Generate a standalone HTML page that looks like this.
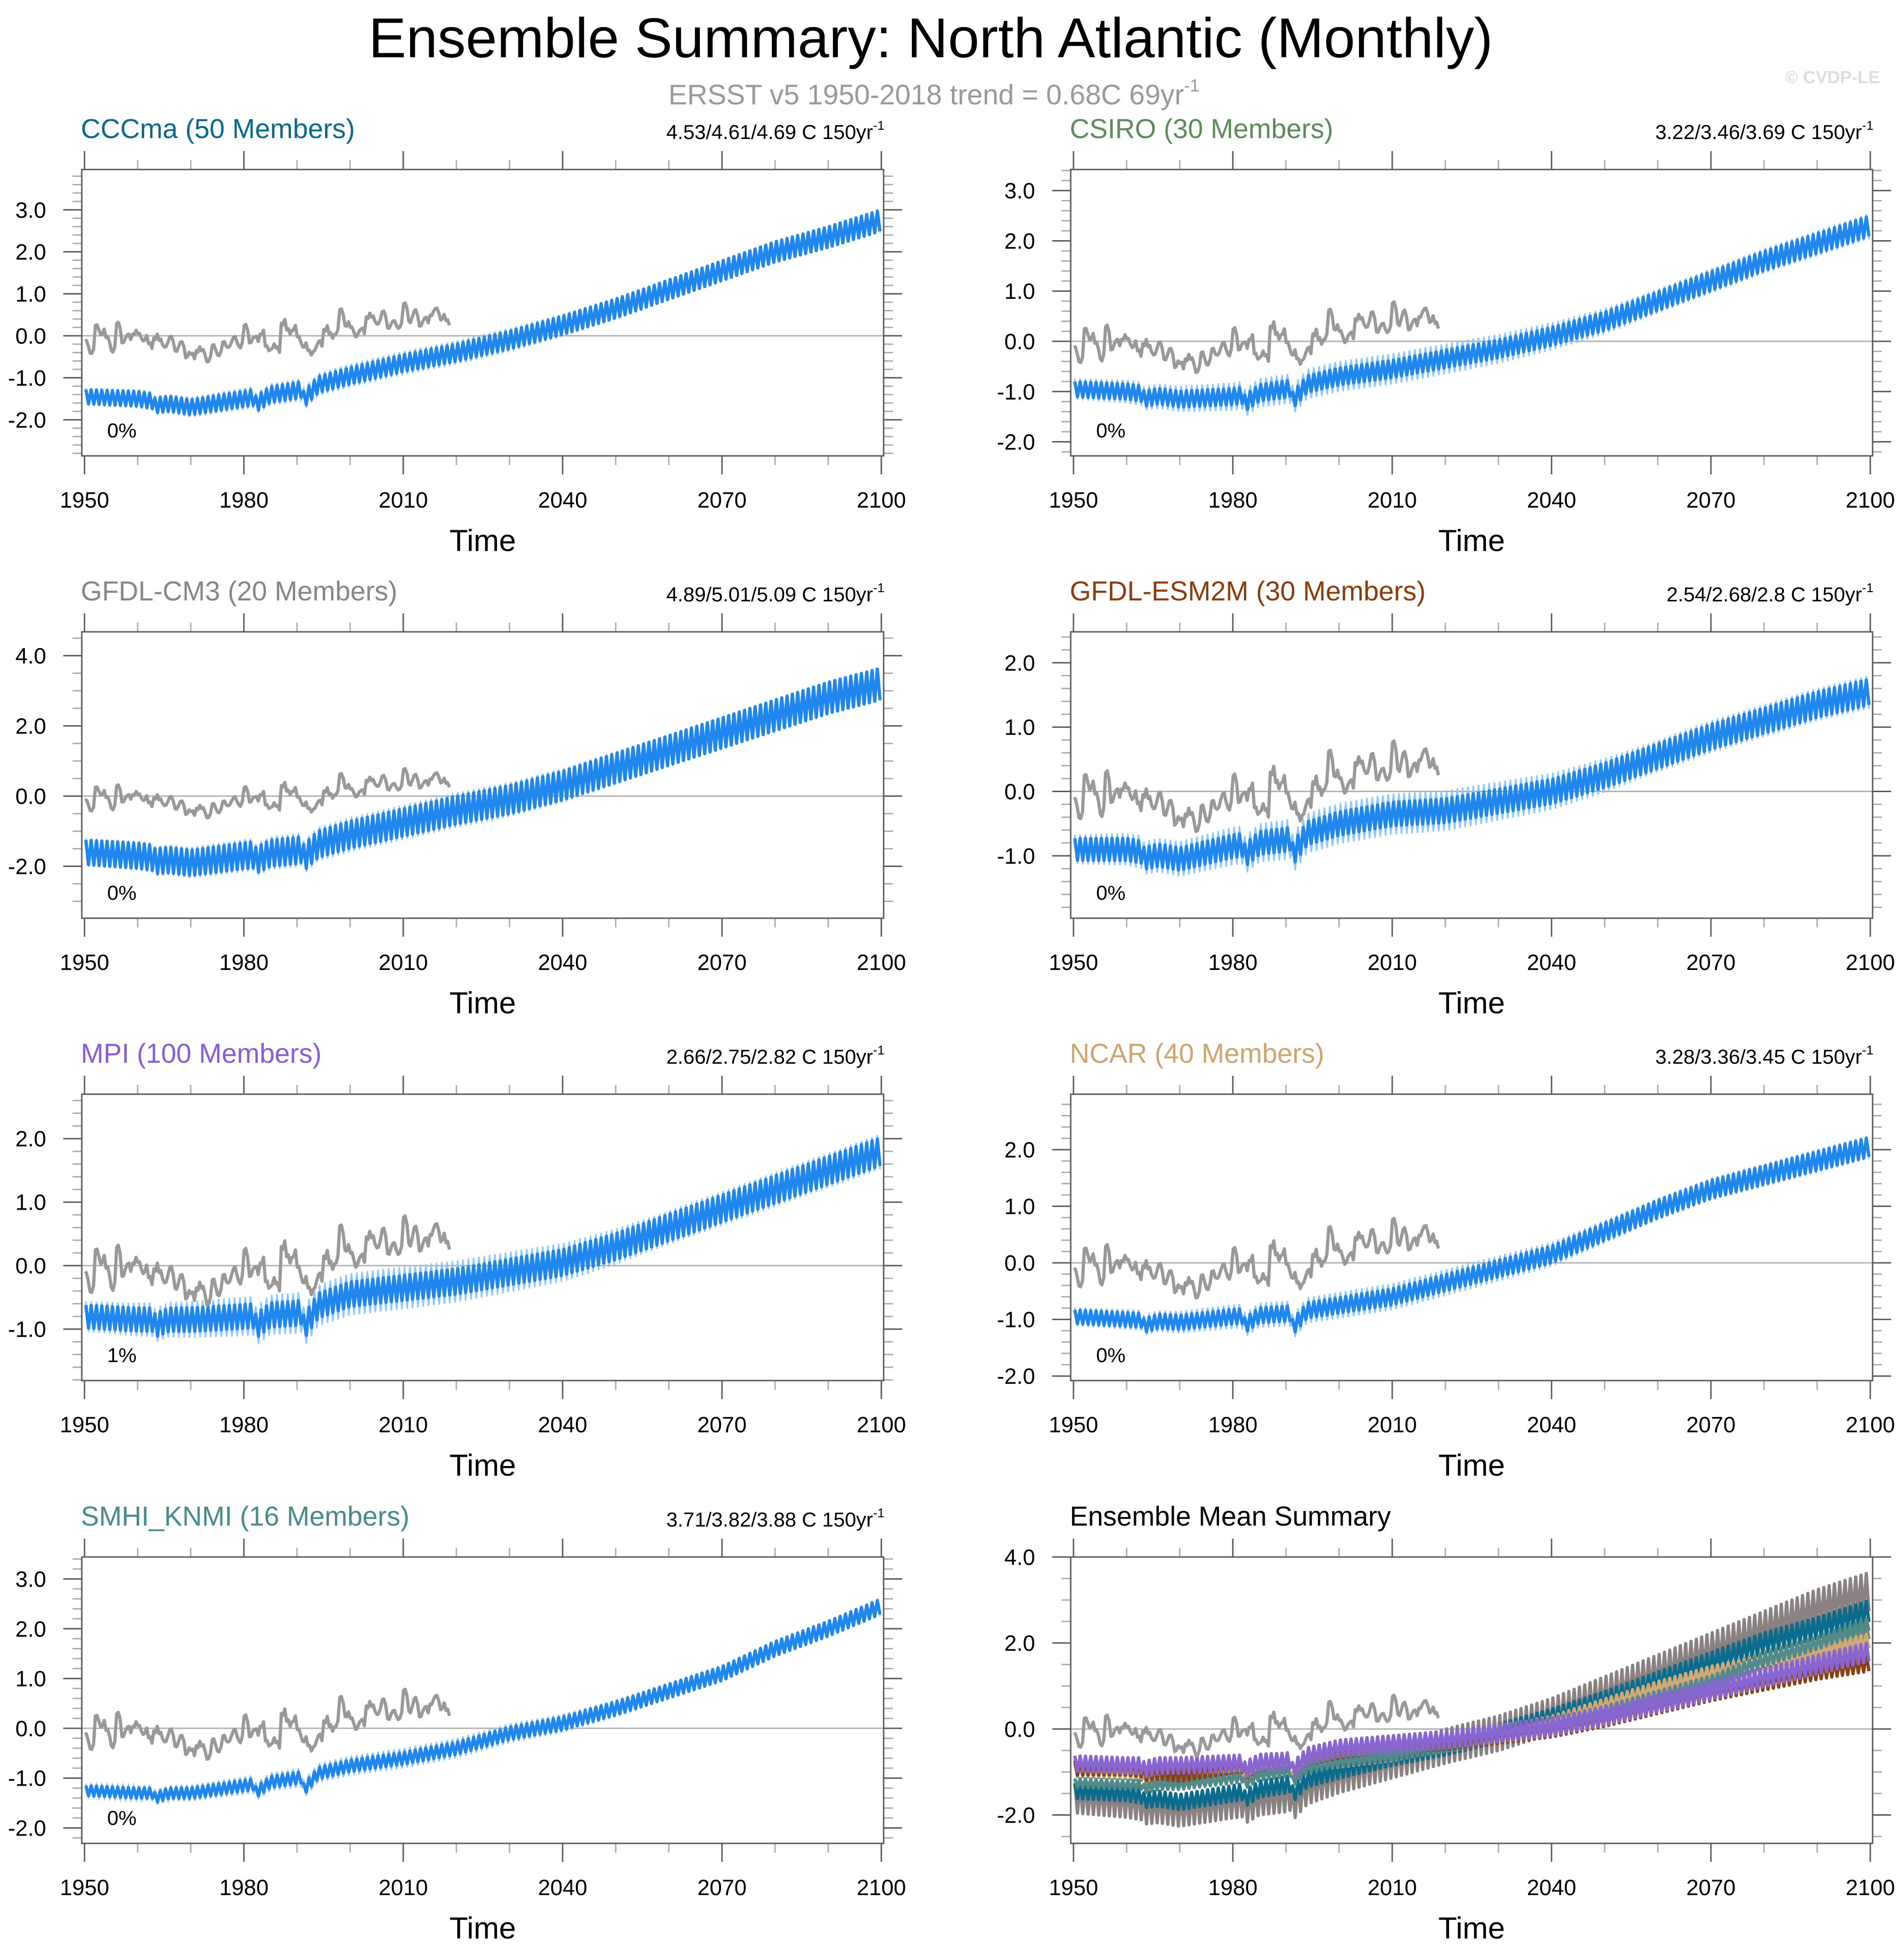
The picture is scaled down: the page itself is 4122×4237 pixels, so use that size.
<!DOCTYPE html>
<html><head><meta charset="utf-8"><style>
html,body{margin:0;padding:0;background:#fff;}
svg{display:block;font-family:"Liberation Sans",sans-serif;}
</style></head><body>
<svg id="chart" width="4122" height="4237" viewBox="0 0 4122 4237" xmlns="http://www.w3.org/2000/svg">
<rect width="4122" height="4237" fill="#fff"/>
<text x="2015" y="124" font-size="122" text-anchor="middle" fill="#000">Ensemble Summary: North Atlantic (Monthly)</text>
<text x="2022" y="226" font-size="61" text-anchor="middle" fill="#999">ERSST v5 1950-2018 trend = 0.68C 69yr<tspan font-size="38" dy="-28">-1</tspan></text>
<text x="4070" y="180" font-size="38" font-weight="bold" text-anchor="end" fill="#ddd">© CVDP-LE</text>
<g id="panels"></g>
</svg>
<script>
// ---- data ----
const modelNames = ["CCCma (50 Members)","CSIRO (30 Members)","GFDL-CM3 (20 Members)","GFDL-ESM2M (30 Members)","MPI (100 Members)","NCAR (40 Members)","SMHI_KNMI (16 Members)"];
const trendLabels = ["4.53/4.61/4.69 C 150yr","3.22/3.46/3.69 C 150yr","4.89/5.01/5.09 C 150yr","2.54/2.68/2.8 C 150yr","2.66/2.75/2.82 C 150yr","3.28/3.36/3.45 C 150yr","3.71/3.82/3.88 C 150yr"];
const pctLabels = ["0%","0%","0%","0%","1%","0%","0%"];
const meanYears = [1950,1960,1970,1980,1990,2000,2010,2020,2030,2040,2050,2060,2070,2080,2090,2100];
const cccmaMean  = [-1.45,-1.5,-1.7,-1.5,-1.3,-0.95,-0.65,-0.4,-0.1,0.25,0.65,1.1,1.55,2.0,2.35,2.75];
const csiroMean  = [-0.95,-1.0,-1.15,-1.1,-0.95,-0.7,-0.55,-0.35,-0.15,0.1,0.4,0.8,1.2,1.6,1.95,2.3];
const cm3Mean    = [-1.6,-1.7,-1.9,-1.7,-1.55,-1.1,-0.75,-0.4,-0.1,0.3,0.8,1.3,1.8,2.3,2.8,3.2];
const esm2mMean  = [-0.9,-0.9,-1.05,-0.85,-0.75,-0.5,-0.35,-0.3,-0.15,0.0,0.25,0.55,0.85,1.1,1.35,1.55];
const mpiMean    = [-0.8,-0.85,-0.85,-0.8,-0.75,-0.45,-0.35,-0.25,-0.1,0.05,0.3,0.6,0.9,1.2,1.5,1.8];
const ncarMean   = [-0.95,-1.0,-1.05,-0.95,-0.9,-0.75,-0.6,-0.35,-0.1,0.15,0.55,0.95,1.3,1.55,1.8,2.05];
const smhiMean   = [-1.25,-1.3,-1.3,-1.15,-1.0,-0.75,-0.6,-0.4,-0.1,0.1,0.4,0.75,1.1,1.6,2.0,2.45];
const seasonalAmp = [0.17,0.15,0.35,0.17,0.18,0.12,0.1];
const seasonalAmpEnd = [0.25,0.2,0.45,0.2,0.22,0.17,0.15];
const spreadAmp = [0.06,0.1,0.08,0.1,0.1,0.07,0.06];
const volcYears = [1963,1982,1991];
const volcDepth = [-0.1,-0.18,-0.28];
const obsYears = [1950,1951,1952,1953,1954,1955,1956,1957,1958,1959,1960,1961,1962,1963,1964,1965,1966,1967,1968,1969,1970,1971,1972,1973,1974,1975,1976,1977,1978,1979,1980,1981,1982,1983,1984,1985,1986,1987,1988,1989,1990,1991,1992,1993,1994,1995,1996,1997,1998,1999,2000,2001,2002,2003,2004,2005,2006,2007,2008,2009,2010,2011,2012,2013,2014,2015,2016,2017,2018];
const obsValues = [-0.2,-0.35,0.2,0.1,-0.1,-0.3,0.25,-0.1,-0.05,0.1,0.0,-0.05,-0.25,0.0,-0.15,-0.2,-0.1,-0.3,-0.2,-0.45,-0.5,-0.3,-0.4,-0.55,-0.3,-0.4,-0.2,-0.2,-0.1,-0.2,0.2,-0.1,-0.1,0.1,-0.3,-0.25,-0.35,0.35,0.1,0.2,-0.1,-0.2,-0.4,-0.3,-0.2,0.2,0.0,0.1,0.55,0.3,0.15,0.05,0.1,0.5,0.4,0.35,0.5,0.25,0.3,0.25,0.7,0.4,0.55,0.3,0.35,0.55,0.6,0.45,0.3];
const obsWiggle = [0.15,-0.12,0.1,-0.15,0.12,-0.1,0.08,-0.14];
const xTickLabels = ["1950","1980","2010","2040","2070","2100"];
const titleColors = ["#0b6a8b","#5e8a5e","#8a8585","#8b3c0c","#8a5cd6","#cfa470","#4a8a8a"];
const lineColors = ["#0a6c8c","#6f8f6f","#8a8282","#8b400f","#8865d0","#cfa978","#528a8a"];
const allMeans = [cccmaMean,csiroMean,cm3Mean,esm2mMean,mpiMean,ncarMean,smhiMean];
const yTop = [3.96,3.42,4.68,2.48,2.70,2.98,3.44,4.0];
const yBot = [-2.86,-2.28,-3.48,-1.97,-1.81,-2.08,-2.31,-2.66];
const yMajorStep = [1,1,2,1,1,1,1,2];
const yMinorStep = [0.2,0.2,0.5,0.2,0.2,0.2,0.2,0.5];

// ---- layout ----
const NS="http://www.w3.org/2000/svg";
const root=document.getElementById('panels');
const BW=1736, BH=620;
const lefts=[177,2318], tops=[367,1368,2369,3371];
function el(tag,attrs,parent){const e=document.createElementNS(NS,tag);for(const k in attrs)e.setAttribute(k,attrs[k]);(parent||root).appendChild(e);return e;}
function interp(xs,ys,x){for(let i=0;i<xs.length-1;i++){if(x<=xs[i+1]){const t=(x-xs[i])/(xs[i+1]-xs[i]);return ys[i]+t*(ys[i+1]-ys[i]);}}return ys[ys.length-1];}
function volc(y){let v=0;for(let i=0;i<volcYears.length;i++){const d=y-volcYears[i];if(d>=0&&d<3)v+=volcDepth[i]*(1-d/3);}return v;}

function drawPanel(p){
  const L=lefts[p%2], T=tops[Math.floor(p/2)];
  const g=el('g',{});
  
  
  const x0=L+6, x1=L+BW-5;
  const X=yr=>x0+(yr-1950)/150*(x1-x0);
  const Y=v=>T+(yTop[p]-v)/(yTop[p]-yBot[p])*BH;
  const cid='clip'+p;
  const cp=el('clipPath',{id:cid},g);el('rect',{x:L,y:T,width:BW,height:BH},cp);
  for(let yr=1950;yr<=2100;yr+=10){
    const major=(yr-1950)%30===0, len=major?40:20, col=major?'#555':'#aaa';
    const t1=el('line',{x1:X(yr),x2:X(yr),y1:T,y2:T-len,stroke:col,'stroke-width':3},g);
    
    
    const t2=el('line',{x1:X(yr),x2:X(yr),y1:T+BH,y2:T+BH+len,stroke:col,'stroke-width':3},g);
    
    
  }
  xTickLabels.forEach((lab,i)=>{
    const t=el('text',{x:X(1950+30*i),y:T+BH+112,'font-size':48,'text-anchor':'middle',fill:'#000'},g);t.textContent=lab;
    
    
  });
  const xt=el('text',{x:L+BW/2,y:T+BH+206,'font-size':66,'text-anchor':'middle',fill:'#000'},g);xt.textContent='Time';
  
  
  const mn=yMinorStep[p], mj=yMajorStep[p];
  for(let k=Math.ceil(yBot[p]/mn-1e-6);k*mn<=yTop[p]+1e-6;k++){
    const v=+(k*mn).toFixed(3);
    const major=Math.abs(v/mj-Math.round(v/mj))<1e-6;
    const len=major?40:20, col=major?'#555':'#aaa';
    const a=el('line',{x1:L,x2:L-len,y1:Y(v),y2:Y(v),stroke:col,'stroke-width':3},g);
    
    
    const b=el('line',{x1:L+BW,x2:L+BW+len,y1:Y(v),y2:Y(v),stroke:col,'stroke-width':3},g);
    
    
    if(major){
      const t=el('text',{x:L-77,y:Y(v)+17,'font-size':48,'text-anchor':'end',fill:'#000'},g);t.textContent=v.toFixed(1);
      
      
    }
  }
  const z=el('line',{x1:L,x2:L+BW,y1:Y(0),y2:Y(0),stroke:'#b0b0b0','stroke-width':3},g);
  
  
  const dg=el('g',{'clip-path':'url(#'+cid+')'},g);
  function zig(m){
    const pts=[];
    for(let yr=1950;yr<2100;yr++){
      const f=(yr-1950)/150;
      const amp=seasonalAmp[m]+(seasonalAmpEnd[m]-seasonalAmp[m])*f;
      const a=interp(meanYears,allMeans[m],yr+0.25)+volc(yr+0.25);
      const b=interp(meanYears,allMeans[m],yr+0.75)+volc(yr+0.75);
      pts.push([X(yr+0.25),Y(a+amp)],[X(yr+0.75),Y(b-amp)]);
    }
    return pts;
  }
  if(p<7){
    const up=[],dn=[];
    for(let yr=1950;yr<2100;yr++){
      const f=(yr-1950)/150;
      const amp=seasonalAmp[p]+(seasonalAmpEnd[p]-seasonalAmp[p])*f;
      const sp=spreadAmp[p]*(0.6+0.8*Math.sin(Math.PI*Math.min(1,f*1.4)));
      for(const o of [0.25,0.75]){
        const v=interp(meanYears,allMeans[p],yr+o)+volc(yr+o);
        const s=o<0.5?1:-1;
        up.push([X(yr+o),Y(v+s*amp+sp)]);dn.push([X(yr+o),Y(v+s*amp-sp)]);
      }
    }
    const band=el('polygon',{points:up.concat(dn.reverse()).map(q=>q.join(',')).join(' '),fill:'#8cc7ff',stroke:'#8cc7ff','stroke-width':3},dg);
    
    
    const ln=el('polyline',{points:zig(p).map(q=>q.join(',')).join(' '),fill:'none',stroke:'#1e86ec','stroke-width':7,'stroke-linejoin':'round'},dg);
    
    
  } else {
    [2,0,1,5,6,3,4].forEach(m=>{
      const ln=el('polyline',{points:zig(m).map(q=>q.join(',')).join(' '),fill:'none',stroke:lineColors[m],'stroke-width':7,'stroke-linejoin':'round'},dg);
      
      
    });
  }
  const op=[];
  obsYears.forEach((yr,i)=>{
    op.push([X(yr+0.05),Y(obsValues[i]+obsWiggle[i%8]*0.5)]);
    op.push([X(yr+0.35),Y(obsValues[i]-obsWiggle[(i+3)%8]*0.6)]);
    op.push([X(yr+0.7),Y(obsValues[i]+obsWiggle[(i+5)%8]*0.4)]);
  });
  const ol=el('polyline',{points:op.map(q=>q.join(',')).join(' '),fill:'none',stroke:'#999','stroke-width':7,'stroke-linejoin':'round'},dg);
  
  
  const bx=el('rect',{x:L,y:T,width:BW,height:BH,fill:'none',stroke:'#555','stroke-width':3},g);
  
  
  const tt=el('text',{x:L-2,y:T-68,'font-size':59,fill:p<7?titleColors[p]:'#000'},g);
  tt.textContent=p<7?modelNames[p]:'Ensemble Mean Summary';
  
  
  if(p<7){
    const rt=el('text',{x:L+BW+2,y:T-66,'font-size':44,'text-anchor':'end',fill:'#000'},g);
    rt.textContent=trendLabels[p];
    const sup=el('tspan',{'font-size':28,dy:-20},rt);sup.textContent='-1';
    
    
    const pc=el('text',{x:L+55,y:T+580,'font-size':44,fill:'#000'},g);pc.textContent=pctLabels[p];
    
    
  }
}
for(let p=0;p<8;p++)drawPanel(p);
</script>
</body></html>
